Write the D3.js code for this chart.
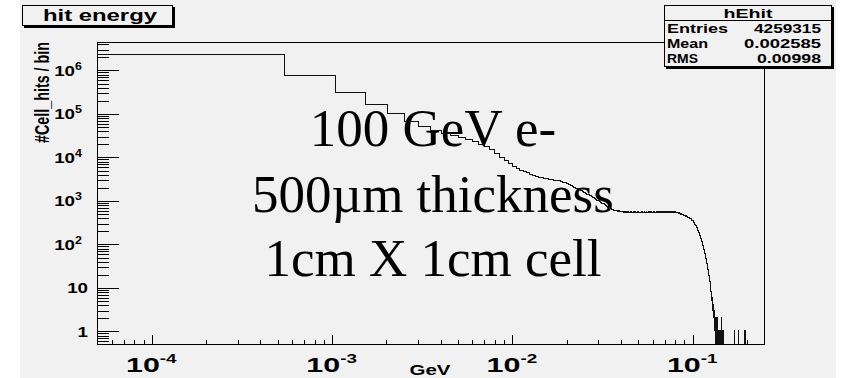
<!DOCTYPE html>
<html>
<head>
<meta charset="utf-8">
<script src="https://cdn.jsdelivr.net/npm/d3@7"></script>
<style>
  html, body { margin: 0; padding: 0; background: #ffffff; }
  svg { display: block; }
  .root text { font-family: "Liberation Sans", Arial, Helvetica, sans-serif; font-weight: bold; fill: #000; }
  .note text { font-family: "Liberation Serif", "Times New Roman", serif; fill: #000; }
</style>
</head>
<body>
<svg id="chart" width="844" height="378"></svg>
<script>
// ---- histogram hEhit : energy deposited per cell hit (GeV) ----
const binLow = 5e-5;          // lower edge of bin 0 (GeV)
const binWidth = 5e-4;        // GeV per bin
const nBins = 500;

// counts for bins 0..299
const counts = [
  2330000, 728000, 300000, 163000, 101000, 66000, 50500, 40800, 35200, 30500,
  27600, 25100, 22600, 19800, 17200, 14500, 11900, 9600, 8100, 6950,
  6150, 5520, 5010, 4630, 4290, 4020, 3790, 3610, 3440, 3310,
  3190, 3130, 3040, 3010, 2940, 2910, 2840, 2760, 2650, 2560,
  2440, 2310, 2210, 2090, 2010, 1915, 1845, 1755, 1690, 1595,
  1545, 1465, 1405, 1335, 1290, 1215, 1175, 1115, 1075, 1015,
  985, 935, 905, 862, 835, 795, 765, 726, 704, 668,
  648, 621, 612, 598, 593, 581, 586, 569, 574, 561,
  556, 548, 562, 541, 553, 537, 549, 528, 556, 540,
  531, 547, 522, 539, 551, 526, 543, 534, 518, 546,
  529, 541, 520, 538, 527, 549, 515, 536, 544, 523,
  531, 552, 519, 540, 528, 545, 533, 517, 548, 530,
  537, 524, 551, 529, 542, 518, 539, 555, 526, 544,
  532, 549, 521, 541, 553, 530, 546, 527, 558, 535,
  548, 531, 556, 539, 545, 562, 529, 551, 543, 558,
  536, 549, 561, 540, 553, 547, 532, 555, 541, 538,
  546, 529, 537, 521, 533, 515, 526, 509, 518, 502,
  511, 495, 503, 486, 492, 478, 483, 466, 471, 455,
  461, 447, 452, 436, 441, 428, 432, 417, 421, 406,
  411, 398, 402, 388, 391, 376, 381, 364, 369, 355,
  352, 338, 327, 316, 309, 298, 286, 279, 268, 262,
  253, 247, 236, 229, 214, 203, 194, 186, 177, 168,
  159, 153, 142, 136, 131, 122, 116, 107, 99, 94,
  88, 81, 76, 69, 66, 61, 55, 50, 46, 43,
  38, 35, 31, 29, 26, 24, 21, 19, 17, 16,
  14, 12, 11, 9, 8, 8, 6, 5, 6, 4,
  3, 4, 3, 2, 1, 2, 3, 1, 0, 2,
  1, 1, 0, 1, 2, 2, 0, 1, 1, 0,
  1, 0, 1, 1, 0, 1, 0, 0, 1, 2,
  0, 1, 0, 1, 0, 0, 1, 0, 1, 0
];
// isolated entries further out: [bin index, count]
const tailHits = [[344, 1], [360, 1], [392, 1]];

// axis ticks and labels
const xMajor = [1e-4, 1e-3, 1e-2, 1e-1];
const xLabelExp = ["-4", "-3", "-2", "-1"];
const yMajor = [1, 10, 100, 1e3, 1e4, 1e5, 1e6];
const yLabelBase = ["1", "10", "10", "10", "10", "10", "10"];
const yLabelExp = ["", "", "2", "3", "4", "5", "6"];

const histTitle = "hit energy";
const xTitle = "GeV";
const yTitle = "#Cell_hits / bin";
const statsName = "hEhit";
const statsLabels = ["Entries", "Mean", "RMS"];
const statsValues = ["4259315", "0.002585", "0.00998"];
const noteLines = ["100 GeV e-", "500\u00B5m thickness", "1cm X 1cm cell"];

// ---- layout ----
const bg = "#f1f1f1";
const frame = { left: 97, right: 764, top: 42, bottom: 344 };

const svg = d3.select("#chart");
const root = svg.append("g").attr("class", "root");

root.append("rect").attr("x", 20).attr("y", 0).attr("width", 816).attr("height", 378).attr("fill", bg);

const x = d3.scaleLog().domain([binLow, 0.25]).range([frame.left, frame.right]);
const y = d3.scaleLog().domain([0.5, 4.4e6]).range([frame.bottom, frame.top]);

// overlay annotation (under the histogram line)
const note = svg.append("g").attr("class", "note");
const noteBase = [146, 212, 276];
note.selectAll("text").data(noteLines).join("text")
  .attr("x", 433).attr("y", (d, i) => noteBase[i])
  .attr("text-anchor", "middle").attr("font-size", 53)
  .text(d => d);

// ---- histogram ----
const full = new Array(nBins).fill(0);
counts.forEach((c, i) => full[i] = c);
tailHits.forEach(([i, c]) => full[i] = c);

const pts = [[binLow, 0]];
full.forEach((c, i) => {
  const lo = binLow + i * binWidth;
  pts.push([lo, c], [Math.min(lo + binWidth, 0.25), c]);
});
const line = d3.line()
  .x(d => x(d[0]))
  .y(d => d[1] > 0 ? y(d[1]) : frame.bottom);

svg.append("path").datum(pts)
  .attr("d", line)
  .attr("fill", "none").attr("stroke", "#111").attr("stroke-width", 1)
  .attr("shape-rendering", "crispEdges");

// ---- frame ----
const axes = svg.append("g").attr("class", "root");
axes.append("rect")
  .attr("x", frame.left + 0.5).attr("y", frame.top + 0.5)
  .attr("width", frame.right - frame.left).attr("height", frame.bottom - frame.top)
  .attr("fill", "none").attr("stroke", "#000").attr("stroke-width", 1);

// minor tick positions for log axes
function minorTicks(lo, hi) {
  const out = [];
  for (let e = Math.floor(Math.log10(lo)); e <= Math.ceil(Math.log10(hi)); e++) {
    for (let m = 2; m <= 9; m++) {
      const v = m * Math.pow(10, e);
      if (v > lo && v < hi) out.push(v);
    }
  }
  return out;
}

// x axis (ticks point up into the frame)
const gx = axes.append("g").attr("transform", `translate(0.5,${frame.bottom + 0.5})`);
gx.call(d3.axisBottom(x).tickValues(minorTicks(binLow, 0.25)).tickSize(-5).tickSizeOuter(0).tickFormat(""));
gx.call(g => g.select(".domain").remove());
const gx2 = axes.append("g").attr("transform", `translate(0.5,${frame.bottom + 0.5})`);
gx2.call(d3.axisBottom(x).tickValues(xMajor).tickSize(-10).tickSizeOuter(0).tickFormat(""));
gx2.call(g => g.select(".domain").remove());

// y axis (ticks point right into the frame)
const gy = axes.append("g").attr("transform", `translate(${frame.left + 0.5},0.5)`);
gy.call(d3.axisLeft(y).tickValues(minorTicks(0.5, 4.4e6)).tickSize(-11).tickSizeOuter(0).tickFormat(""));
gy.call(g => g.select(".domain").remove());
const gy2 = axes.append("g").attr("transform", `translate(${frame.left + 0.5},0.5)`);
gy2.call(d3.axisLeft(y).tickValues(yMajor).tickSize(-21).tickSizeOuter(0).tickFormat(""));
gy2.call(g => g.select(".domain").remove());
axes.selectAll(".tick line").attr("stroke", "#000").attr("shape-rendering", "crispEdges");

// x tick labels: 10^n
const xl = axes.selectAll("g.xlab").data(xMajor).join("g").attr("class", "xlab")
  .attr("transform", d => `translate(${x(d)},372) scale(1.45,1)`);
const xt = xl.append("text").attr("text-anchor", "middle");
xt.append("tspan").attr("font-size", 21).text("10");
xt.append("tspan").attr("font-size", 13).attr("dy", -9).text((d, i) => xLabelExp[i]);

// y tick labels
const yl = axes.selectAll("g.ylab").data(yMajor).join("g").attr("class", "ylab")
  .attr("transform", (d, i) => `translate(${frame.left - (yLabelExp[i] ? 15 : 9)},${y(d) + 6}) scale(1.25,1)`);
const yt = yl.append("text").attr("text-anchor", "end");
yt.append("tspan").attr("font-size", 15).text((d, i) => yLabelBase[i]);
yt.append("tspan").attr("font-size", 10).attr("dy", -6).text((d, i) => yLabelExp[i]);

// axis titles
axes.append("text").attr("x", 430).attr("y", 375).attr("text-anchor", "middle")
  .attr("font-size", 14).attr("textLength", 41).attr("lengthAdjust", "spacingAndGlyphs")
  .text(xTitle);
axes.append("g").attr("transform", `translate(49,${frame.top}) scale(1.4,1) rotate(-90)`)
  .append("text").attr("text-anchor", "end").attr("font-size", 14)
  .attr("textLength", 101).attr("lengthAdjust", "spacingAndGlyphs")
  .text(yTitle);

// ---- title box ----
const tb = svg.append("g").attr("class", "root");
tb.append("rect").attr("x", 24).attr("y", 7).attr("width", 151).attr("height", 21).attr("fill", "#000");
tb.append("rect").attr("x", 22.5).attr("y", 5.5).attr("width", 150).attr("height", 20)
  .attr("fill", bg).attr("stroke", "#000");
tb.append("text").attr("x", 43).attr("y", 21).attr("font-size", 16)
  .attr("textLength", 114).attr("lengthAdjust", "spacingAndGlyphs").text(histTitle);

// ---- statistics box ----
const sb = svg.append("g").attr("class", "root");
const sbx = 664, sby = 5, sbw = 167, sbh = 61;
sb.append("rect").attr("x", sbx + 2).attr("y", sby + 2).attr("width", sbw + 1).attr("height", sbh + 1).attr("fill", "#000");
sb.append("rect").attr("x", sbx + 0.5).attr("y", sby + 0.5).attr("width", sbw).attr("height", sbh)
  .attr("fill", bg).attr("stroke", "#000");
sb.append("line").attr("x1", sbx).attr("x2", sbx + sbw).attr("y1", 20.5).attr("y2", 20.5).attr("stroke", "#000");
sb.append("text").attr("x", sbx + sbw / 2 + 0.5).attr("y", 18).attr("text-anchor", "middle")
  .attr("font-size", 12).attr("textLength", 49).attr("lengthAdjust", "spacingAndGlyphs").text(statsName);
const labLen = [61, 41, 31], valLen = [67, 77, 64];
statsLabels.forEach((s, i) => {
  sb.append("text").attr("x", 667).attr("y", 33 + i * 15).attr("font-size", 12)
    .attr("textLength", labLen[i]).attr("lengthAdjust", "spacingAndGlyphs").text(s);
  sb.append("text").attr("x", 821).attr("y", 33 + i * 15).attr("text-anchor", "end").attr("font-size", 12)
    .attr("textLength", valLen[i]).attr("lengthAdjust", "spacingAndGlyphs").text(statsValues[i]);
});
</script>
</body>
</html>
